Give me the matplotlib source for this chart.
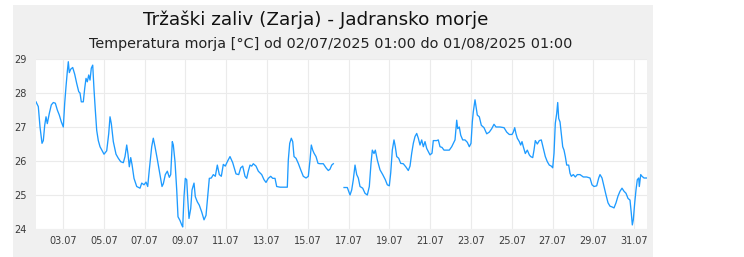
import numpy as np
import pandas as pd
import matplotlib
matplotlib.use("Agg")
from matplotlib import pyplot as plt
import matplotlib.dates as mdates
from matplotlib.patches import Rectangle

# Sea temperature readings: day of July (fractional) and temperature in degC
day = [
    1.676, 1.789, 1.873, 1.971, 2.034, 2.103, 2.167, 2.230, 2.328, 2.426,
    2.525, 2.623, 2.721, 2.819, 2.917, 3.015, 3.083, 3.147, 3.211, 3.260,
    3.309, 3.377, 3.475, 3.574, 3.672, 3.770, 3.833, 3.897, 3.995, 4.064,
    4.127, 4.191, 4.260, 4.324, 4.387, 4.456, 4.520, 4.583, 4.652, 4.730,
    4.814, 5.010, 5.142, 5.240, 5.304, 5.368, 5.466, 5.598, 5.711, 5.828,
    5.956, 6.039, 6.123, 6.186, 6.250, 6.319, 6.382, 6.480, 6.613, 6.775,
    6.858, 6.971, 7.069, 7.152, 7.230, 7.348, 7.426, 7.510, 7.623, 7.755,
    7.853, 7.917, 8.015, 8.113, 8.211, 8.279, 8.358, 8.407, 8.490, 8.574,
    8.637, 8.735, 8.819, 8.868, 8.931, 8.995, 9.064, 9.113, 9.176, 9.260,
    9.324, 9.422, 9.485, 9.583, 9.681, 9.799, 9.912, 10.010, 10.108, 10.172,
    10.270, 10.368, 10.466, 10.564, 10.662, 10.760, 10.858, 10.956, 11.054, 11.186,
    11.319, 11.480, 11.613, 11.711, 11.809, 11.922, 12.005, 12.083, 12.167, 12.250,
    12.328, 12.461, 12.574, 12.740, 12.853, 12.951, 13.064, 13.181, 13.279, 13.392,
    13.475, 13.637, 13.882, 13.995, 14.044, 14.113, 14.191, 14.260, 14.324, 14.422,
    14.534, 14.652, 14.779, 14.912, 15.025, 15.108, 15.172, 15.240, 15.304, 15.402,
    15.500, 15.598, 15.760, 15.892, 16.005, 16.088, 16.172, 16.250,
    16.50,
    16.775, 16.936, 17.069, 17.152, 17.230, 17.314, 17.397, 17.475, 17.559, 17.691,
    17.804, 17.917, 18.015, 18.098, 18.162, 18.245, 18.309, 18.407, 18.539, 18.672,
    18.799, 18.897, 18.995, 19.064, 19.142, 19.225, 19.289, 19.358, 19.456, 19.554,
    19.681, 19.814, 19.926, 20.010, 20.093, 20.172, 20.255, 20.338, 20.417, 20.500,
    20.583, 20.662, 20.745, 20.828, 20.907, 20.990, 21.088, 21.152, 21.319, 21.397,
    21.480, 21.578, 21.676, 21.809, 21.936, 22.054, 22.132, 22.216, 22.299, 22.348,
    22.426, 22.495, 22.593, 22.706, 22.819, 22.917, 23.000, 23.064, 23.113, 23.196,
    23.245, 23.309, 23.407, 23.505, 23.637, 23.770, 23.897, 24.015, 24.127, 24.225,
    24.422, 24.618, 24.750, 24.877, 25.010, 25.074, 25.142, 25.206, 25.270, 25.368,
    25.436, 25.500, 25.564, 25.662, 25.760, 25.858, 25.926, 26.025, 26.088, 26.152,
    26.250, 26.348, 26.446, 26.544, 26.642, 26.740, 26.838, 26.936, 27.005, 27.069,
    27.132, 27.201, 27.250, 27.299, 27.363, 27.426, 27.495, 27.559, 27.623, 27.691,
    27.789, 27.853, 27.917, 28.015, 28.113, 28.211, 28.343, 28.505, 28.672, 28.833,
    28.931, 29.029, 29.162, 29.260, 29.324, 29.422, 29.520, 29.618, 29.716, 29.814,
    29.912, 30.010, 30.108, 30.206, 30.304, 30.402, 30.500, 30.598, 30.696, 30.794,
    30.858, 30.907, 30.956, 31.025, 31.088, 31.152, 31.221, 31.250, 31.319, 31.382,
    31.480, 31.627,
]
temp = [
    27.74, 27.60, 27.00, 26.52, 26.60, 27.05, 27.30, 27.10, 27.40, 27.65,
    27.72, 27.70, 27.50, 27.35, 27.15, 27.00, 27.70, 28.19, 28.63, 28.92,
    28.60, 28.70, 28.75, 28.55, 28.28, 28.04, 28.00, 27.74, 27.74, 28.14,
    28.43, 28.33, 28.53, 28.38, 28.73, 28.82, 28.10, 27.50, 26.90, 26.60,
    26.42, 26.20, 26.30, 26.80, 27.30, 27.10, 26.57, 26.20, 26.08, 25.98,
    25.95, 26.13, 26.47, 26.20, 25.83, 26.10, 25.90, 25.49, 25.25, 25.20,
    25.35, 25.30, 25.38, 25.25, 25.74, 26.42, 26.67, 26.42, 26.05, 25.59,
    25.25, 25.33, 25.60, 25.70, 25.52, 25.60, 26.57, 26.47, 25.98, 25.15,
    24.36, 24.25, 24.12, 24.06, 24.95, 25.49, 25.45, 24.90, 24.31, 24.60,
    25.15, 25.35, 24.95, 24.80, 24.70, 24.50, 24.27, 24.40, 25.05, 25.49,
    25.50, 25.60, 25.55, 25.88, 25.60, 25.55, 25.90, 25.85, 25.98, 26.13,
    25.95, 25.62, 25.60, 25.80, 25.85, 25.55, 25.49, 25.70, 25.88, 25.85,
    25.92, 25.85, 25.70, 25.60, 25.45, 25.37, 25.49, 25.55, 25.49, 25.49,
    25.25, 25.23, 25.23, 25.23, 26.03, 26.52, 26.67, 26.57, 26.13, 26.08,
    25.93, 25.74, 25.55, 25.50, 25.55, 26.03, 26.47, 26.32, 26.23, 26.13,
    25.93, 25.92, 25.92, 25.80, 25.72, 25.76, 25.88, 25.92,
    np.nan,
    25.22, 25.22, 25.00, 25.15, 25.45, 25.88, 25.60, 25.50, 25.25, 25.20,
    25.05, 25.00, 25.25, 25.93, 26.32, 26.22, 26.32, 26.03, 25.74, 25.60,
    25.45, 25.30, 25.27, 25.65, 26.32, 26.62, 26.42, 26.13, 26.08, 25.93,
    25.92, 25.82, 25.72, 25.85, 26.23, 26.52, 26.72, 26.81, 26.67, 26.47,
    26.62, 26.42, 26.57, 26.37, 26.28, 26.18, 26.23, 26.60, 26.60, 26.62,
    26.42, 26.40, 26.32, 26.32, 26.32, 26.42, 26.52, 26.62, 27.20, 26.95,
    27.00, 26.76, 26.62, 26.62, 26.55, 26.42, 26.52, 27.15, 27.45, 27.80,
    27.60, 27.35, 27.30, 27.05, 26.98, 26.80, 26.85, 26.95, 27.08, 27.00,
    27.00, 26.98, 26.85, 26.78, 26.78, 26.85, 26.98, 26.80, 26.67, 26.57,
    26.47, 26.57, 26.42, 26.22, 26.32, 26.18, 26.13, 26.10, 26.32, 26.60,
    26.50, 26.60, 26.62, 26.37, 26.13, 25.98, 25.88, 25.85, 25.80, 26.23,
    27.11, 27.40, 27.72, 27.25, 27.15, 26.80, 26.42, 26.32, 26.13, 25.88,
    25.88, 25.64, 25.55, 25.60, 25.53, 25.60, 25.60, 25.53, 25.53, 25.50,
    25.30, 25.25, 25.27, 25.50, 25.60, 25.50, 25.25, 25.00, 24.77, 24.67,
    24.65, 24.62, 24.77, 24.97, 25.11, 25.20, 25.11, 25.05, 24.90, 24.85,
    24.46, 24.12, 24.27, 24.77, 25.15, 25.45, 25.50, 25.25, 25.60, 25.55,
    25.50, 25.50,
]
tick_days = [3, 5, 7, 9, 11, 13, 15, 17, 19, 21, 23, 25, 27, 29, 31]
y_ticks = [24, 25, 26, 27, 28, 29]

title = "Tržaški zaliv (Zarja) - Jadransko morje"
subtitle = "Temperatura morja [°C] od 02/07/2025 01:00 do 01/08/2025 01:00"

month_start = pd.Timestamp("2025-07-01")
times = month_start + pd.to_timedelta(np.array(day) - 1, unit="D")
tick_times = [month_start + pd.Timedelta(days=d - 1) for d in tick_days]

W, H = 744, 257
fig = plt.figure(figsize=(W / 100, H / 100), dpi=100, facecolor="white")

# light grey card behind the chart
fig.patches.append(Rectangle((13 / W, 0), 640 / W, 252 / H, transform=fig.transFigure,
                             facecolor="#f0f0f0", edgecolor="none", zorder=-10))

ax = fig.add_axes([36 / W, (H - 229) / H, 611 / W, 170 / H])
ax.set_facecolor("white")
ax.plot(times, temp, color="#1e9bff", lw=0.95)

ax.set_xlim(times[0], times[-1])
ax.set_ylim(24, 29)
ax.set_yticks(y_ticks)
ax.set_xticks(tick_times)
ax.xaxis.set_major_formatter(mdates.DateFormatter("%d.%m"))
ax.grid(True, color="#ebebeb", lw=0.8)
ax.set_axisbelow(True)
ax.tick_params(length=0, labelsize=7, colors="#3a3a3a")
ax.tick_params(axis="x", pad=5)
ax.tick_params(axis="y", pad=7)
for s in ax.spines.values():
    s.set_visible(False)

fig.text(316 / W, 1 - 20 / H, title, ha="center", va="center", fontsize=13.2, color="#111111")
fig.text(331 / W, 1 - 44 / H, subtitle, ha="center", va="center", fontsize=10.4, color="#222222")

fig.savefig("out.png", dpi=100, facecolor="white")
